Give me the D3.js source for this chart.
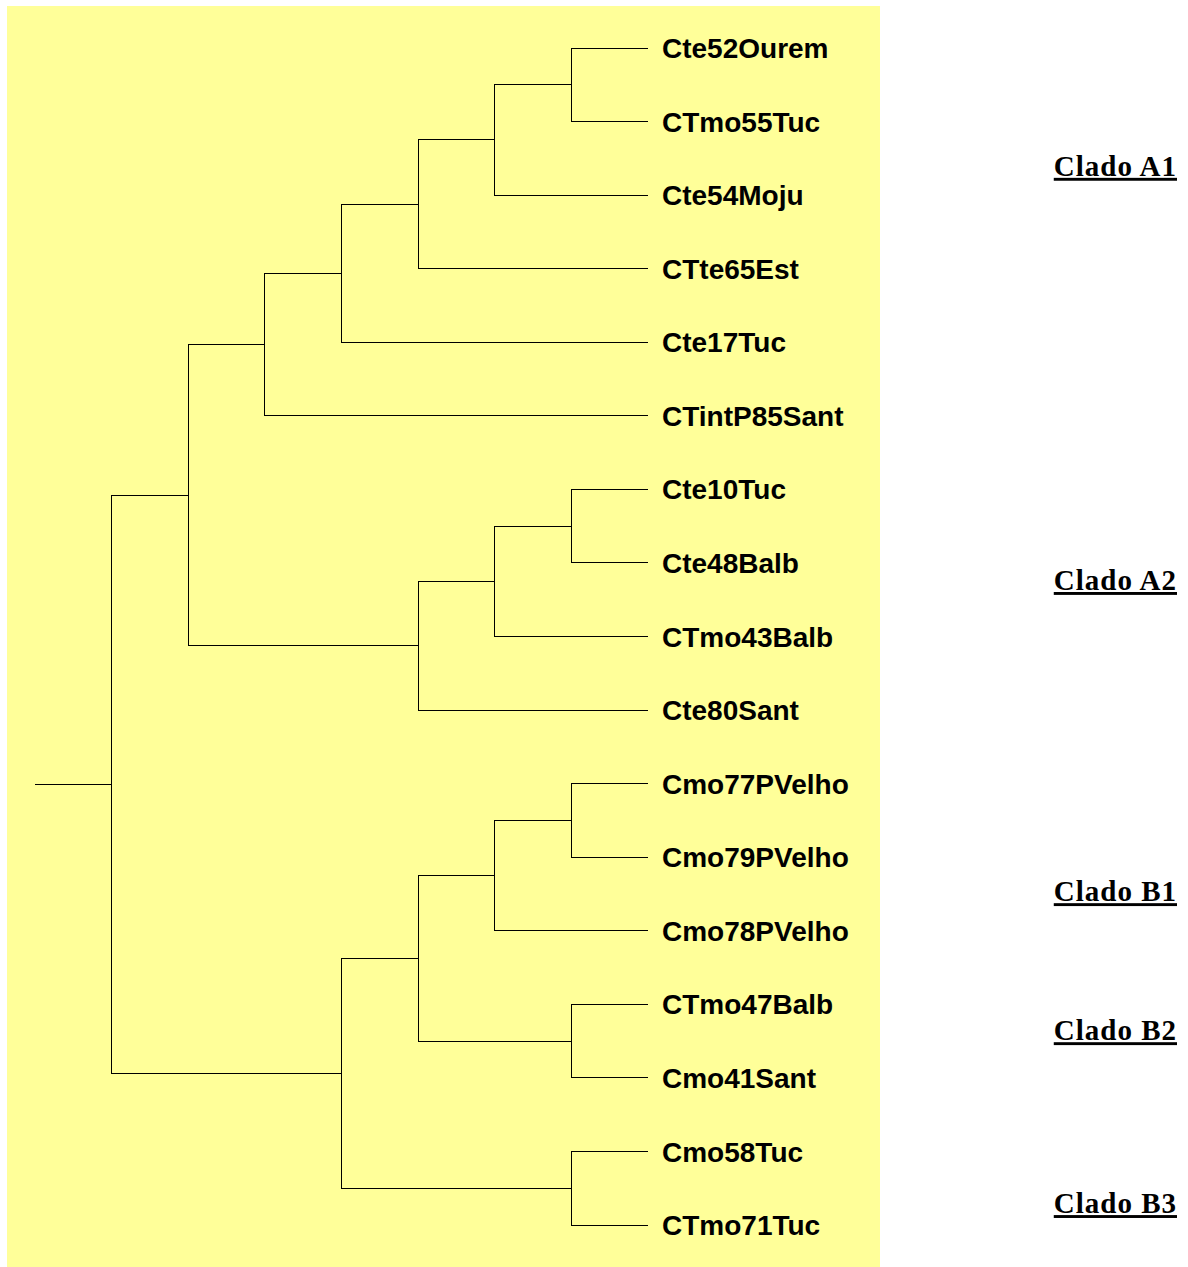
<!DOCTYPE html>
<html>
<head>
<meta charset="utf-8">
<script src="https://cdn.jsdelivr.net/npm/d3@7"></script>
<style>
html,body{margin:0;padding:0;background:#fff;}
svg{display:block;}
</style>
</head>
<body>
<svg id="chart" width="1188" height="1267"></svg>
<script>
// ---- data ----
const leaves = [
  "Cte52Ourem","CTmo55Tuc","Cte54Moju","CTte65Est","Cte17Tuc","CTintP85Sant",
  "Cte10Tuc","Cte48Balb","CTmo43Balb","Cte80Sant",
  "Cmo77PVelho","Cmo79PVelho","Cmo78PVelho","CTmo47Balb","Cmo41Sant",
  "Cmo58Tuc","CTmo71Tuc"
];
// nested topology, numbers are indices into leaves
const topology = [
  [
    [[[[[0,1],2],3],4],5],
    [[[6,7],8],9]
  ],
  [
    [[[10,11],12],[13,14]],
    [15,16]
  ]
];
const cladeNames = ["Clado A1","Clado A2","Clado B1","Clado B2","Clado B3"];
// vertical position of each clade label, in leaf-row units
const cladeRows = [1.6, 7.23, 11.46, 13.35, 15.7];

// ---- build hierarchy ----
function toNode(t){
  if (typeof t === "number") return {name: leaves[t], idx: t};
  return {children: t.map(toNode)};
}
// outer root with single child produces the root stub
const rootData = {children:[toNode(topology)]};
const root = d3.hierarchy(rootData);

const svg = d3.select("#chart");
const bg = {x0: 7, y0: 6, x1: 880, y1: 1267};
svg.append("rect").attr("x", bg.x0).attr("y", bg.y0)
  .attr("width", bg.x1 - bg.x0).attr("height", bg.y1 - bg.y0)
  .attr("fill", "#ffff99");

const xLeft = 35, xRight = 648, yTop = 48, yBottom = 1225;
const cluster = d3.cluster().separation(() => 1).size([1, 1]);
cluster(root);

const rowScale = d3.scaleLinear().domain([0, leaves.length - 1]).range([yTop, yBottom]);
const leafNodes = root.leaves();
const xs = leafNodes.map(d => d.x);
const yScale = d3.scaleLinear().domain([d3.min(xs), d3.max(xs)]).range([yTop, yBottom]);
const xScale = d3.scaleLinear().domain([0, 1]).range([xLeft, xRight]);

const g = svg.append("g");
g.selectAll("path.link").data(root.links()).join("path")
  .attr("class","link")
  .attr("fill","none")
  .attr("stroke","#000")
  .attr("stroke-width",1)
  .attr("shape-rendering","crispEdges")
  .attr("d", l => {
    const px = xScale(l.source.y), py = yScale(l.source.x);
    const cx = xScale(l.target.y), cy = yScale(l.target.x);
    if (l.source.children.length === 1) return `M${px},${cy}H${cx}`;
    return `M${px},${py}V${cy}H${cx}`;
  });

g.selectAll("text.leaf").data(leafNodes).join("text")
  .attr("class","leaf")
  .attr("x", xRight + 14)
  .attr("y", d => yScale(d.x))
  .attr("dy","0.36em")
  .attr("font-family","'Liberation Sans', Arial, sans-serif")
  .attr("font-weight","bold")
  .attr("font-size","28px")
  .attr("fill","#000")
  .text(d => d.data.name);

svg.selectAll("text.clade").data(cladeNames).join("text")
  .attr("class","clade")
  .attr("x", 1177)
  .attr("y", (d,i) => rowScale(cladeRows[i]))
  .attr("dy","0.35em")
  .attr("text-anchor","end")
  .attr("font-family","'Liberation Serif', 'Times New Roman', serif")
  .attr("font-weight","bold")
  .attr("font-size","29px")
  .attr("letter-spacing","1px")
  .attr("text-decoration","underline")
  .attr("fill","#000")
  .text(d => d);
</script>
</body>
</html>
